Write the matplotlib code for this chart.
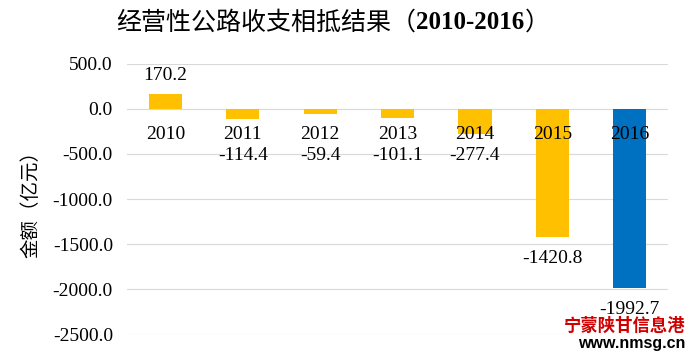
import matplotlib
matplotlib.use("Agg")
import matplotlib.pyplot as plt

years = ["2010", "2011", "2012", "2013", "2014", "2015", "2016"]
values = [170.2, -114.4, -59.4, -101.1, -277.4, -1420.8, -1992.7]
yticks = [500, 0, -500, -1000, -1500, -2000, -2500]
colors = ["#FFC000"] * 6 + ["#0070C0"]

serif = ["Liberation Serif", "Noto Sans CJK SC"]
cjk = ["Noto Sans CJK SC", "Liberation Serif"]

fig = plt.figure(figsize=(6.89, 3.51), dpi=100)
ax = fig.add_axes([0.184, 0.048, 0.786, 0.77])
x = list(range(len(years)))
ax.bar(x, values, width=0.43, color=colors, zorder=3)
ax.set_ylim(-2500, 500)
ax.set_xlim(-0.5, len(years) - 0.5)
ax.set_yticks(yticks)
ax.set_yticklabels([f"{v:.1f}" for v in yticks], family=serif, fontsize=14)
ax.set_xticks([])
ax.grid(axis="y", color="#D9D9D9", linewidth=0.8, zorder=0)
for s in ax.spines.values():
    s.set_visible(False)
ax.tick_params(axis="y", length=0, pad=10)

for xi, v, yr in zip(x, values, years):
    ax.text(xi, -285, yr, ha="center", va="center", family=serif, fontsize=14, zorder=4)
    if v >= 0:
        ax.text(xi, v + 205, f"{v:.1f}", ha="center", va="center", family=serif, fontsize=14)
    else:
        ax.text(xi, min(v - 235, -520), f"{v:.1f}", ha="center", va="center",
                family=serif, fontsize=14, zorder=4)

ax.set_ylabel("金额（亿元）", family=cjk, fontsize=14, labelpad=8)

# Title built from parts
parts = [("经营性公路收支相抵结果（", cjk, "normal"),
         ("2010-2016", serif, "bold"),
         ("）", cjk, "normal")]
fig.canvas.draw()
r = fig.canvas.get_renderer()
texts = []
for s, fam, w in parts:
    t = fig.text(0, 0.935, s, family=fam, fontsize=18, fontweight=w, ha="left", va="center")
    texts.append(t)
widths = [t.get_window_extent(r).width for t in texts]
total = sum(widths)
start = 333 - total / 2
for t, w in zip(texts, widths):
    t.set_x(start / fig.bbox.width)
    start += w

fig.text(0.995, 0.072, "宁蒙陕甘信息港", family=cjk, fontsize=12.5, fontweight="bold",
         color="#D00000", ha="right", va="center")
fig.text(0.995, 0.022, "www.nmsg.cn", family=["Liberation Sans"], fontsize=11.5,
         fontweight="bold", color="black", ha="right", va="center")

fig.savefig("out.png", dpi=100)
